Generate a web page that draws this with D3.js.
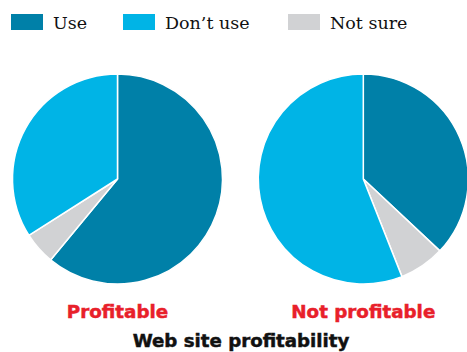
<!DOCTYPE html>
<html>
<head>
<meta charset="utf-8">
<script src="https://cdn.jsdelivr.net/npm/d3@7"></script>
<style>
  html, body { margin: 0; padding: 0; background: #fff; }
  svg { display: block; }
</style>
</head>
<body>
<svg id="chart" width="467" height="352"></svg>
<script>
// Share of respondents, by answer, for each group of web sites
const categories = ["Use", "Don\u2019t use", "Not sure"];
const colors = ["#0080a8", "#00b4e6", "#d1d2d4"];
const groups = ["Profitable", "Not profitable"];
const profitableValues = [61, 34, 5];
const notProfitableValues = [37, 56, 7];
const title = "Web site profitability";

const svg = d3.select("#chart");

// Legend
const legendX = [11, 123, 288];
const legend = svg.append("g");
categories.forEach((c, i) => {
  const g = legend.append("g").attr("transform", `translate(${legendX[i]},14)`);
  g.append("rect").attr("width", 32).attr("height", 16).attr("fill", colors[i]);
  g.append("text")
    .attr("x", 42).attr("y", 15)
    .attr("font-family", "DejaVu Serif, serif")
    .attr("font-size", 17.5)
    .attr("fill", "#111")
    .text(c);
});

// Pies: Use, Not sure, Don't use, clockwise from 12 o'clock
const order = [0, 2, 1];
const pie = d3.pie().sort(null).value(d => d.v);
const radius = 105;
const arc = d3.arc().innerRadius(0).outerRadius(radius);
const centers = d3.scalePoint().domain(groups).range([117.5, 363.3]);
const cy = 179;

[profitableValues, notProfitableValues].forEach((vals, gi) => {
  const data = order.map(i => ({ i, v: vals[i] }));
  const g = svg.append("g").attr("transform", `translate(${centers(groups[gi])},${cy})`);
  g.selectAll("path")
    .data(pie(data))
    .join("path")
    .attr("d", arc)
    .attr("fill", d => colors[d.data.i])
    .attr("stroke", "#fff")
    .attr("stroke-width", 1.5)
    .attr("stroke-linejoin", "round");

  // Group label under each pie, heavy red sans
  svg.append("text")
    .attr("x", centers(groups[gi]))
    .attr("y", 318)
    .attr("text-anchor", "middle")
    .attr("font-family", "DejaVu Sans, sans-serif")
    .attr("font-weight", "bold")
    .attr("font-size", 18.3)
    .attr("fill", "#e8202a")
    .attr("stroke", "#e8202a")
    .attr("stroke-width", 0.5)
    .text(groups[gi]);
});

svg.append("text")
  .attr("x", 241)
  .attr("y", 347)
  .attr("text-anchor", "middle")
  .attr("font-family", "DejaVu Sans, sans-serif")
  .attr("font-weight", "bold")
  .attr("font-size", 18.2)
  .attr("fill", "#111")
  .attr("stroke", "#111")
  .attr("stroke-width", 0.5)
  .text(title);
</script>
</body>
</html>
